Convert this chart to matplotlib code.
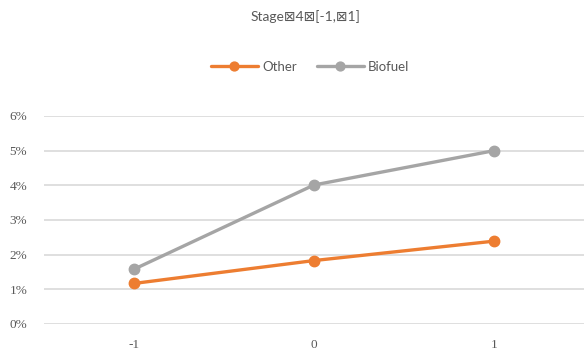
import matplotlib
matplotlib.use("Agg")
import matplotlib.pyplot as plt
from matplotlib.ticker import PercentFormatter

categories = ["-1", "0", "1"]
other = [0.0117, 0.0183, 0.0239]
biofuel = [0.0158, 0.0401, 0.0500]
y_ticks = [0.0, 0.01, 0.02, 0.03, 0.04, 0.05, 0.06]
title = "Stage\u22a04\u22a0[-1,\u22a01]"

fig = plt.figure(figsize=(5.88, 3.53), dpi=100)
ax = fig.add_axes([44 / 588, 1 - 324 / 353, 540 / 588, (324 - 116) / 353])

x = list(range(len(categories)))
ax.plot(x, other, color="#ED7D31", lw=2.4, marker="o", ms=7.5,
        solid_capstyle="round", label="Other", zorder=3)
ax.plot(x, biofuel, color="#A5A5A5", lw=2.4, marker="o", ms=7.5,
        solid_capstyle="round", label="Biofuel", zorder=3)

ax.set_xlim(-0.5, len(categories) - 0.5)
ax.set_ylim(0, 0.06)
ax.set_xticks(x)
ax.set_xticklabels(categories)
ax.set_yticks(y_ticks)
ax.yaxis.set_major_formatter(PercentFormatter(1.0, decimals=0))
ax.grid(axis="y", color="#D9D9D9", lw=1.2)
ax.set_axisbelow(True)
for s in ax.spines.values():
    s.set_visible(False)
ax.tick_params(length=0, colors="#595959", labelsize=9.5)
for lab in ax.get_xticklabels() + ax.get_yticklabels():
    lab.set_family("Liberation Serif")
ax.tick_params(axis="x", pad=11)
ax.tick_params(axis="y", pad=12)

fig.text(305 / 588, 1 - 17 / 353, title, ha="center", va="center",
         fontsize=10, color="#595959", family=["Lato", "DejaVu Sans"])

leg = fig.legend(loc="center", bbox_to_anchor=(310 / 588, 1 - 67 / 353),
                 ncol=2, frameon=False, handlelength=3.6, handletextpad=0.3,
                 columnspacing=1.5, markerscale=0.85,
                 prop={"family": "Lato", "size": 9.5})
for t in leg.get_texts():
    t.set_color("#595959")

fig.savefig("out.png", dpi=100)
